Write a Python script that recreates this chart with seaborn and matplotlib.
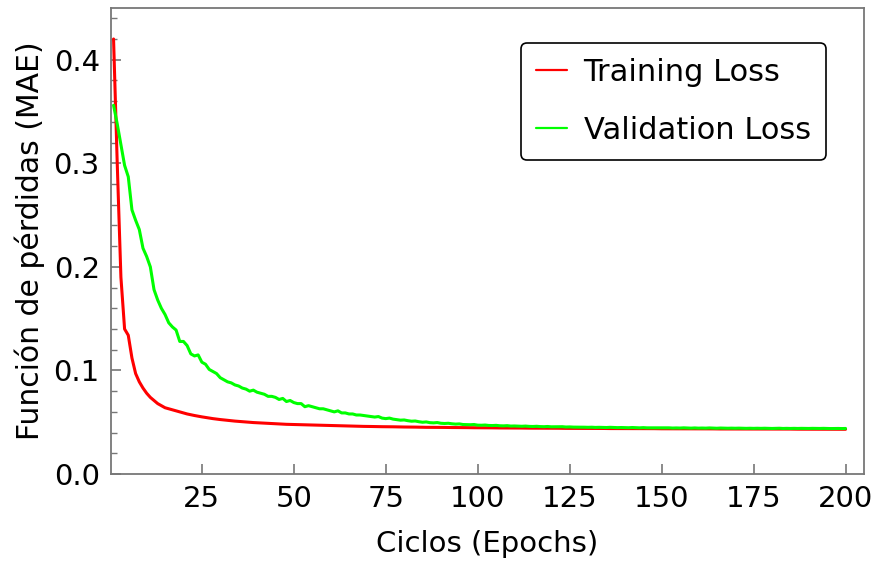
import matplotlib
matplotlib.use("Agg")
import matplotlib.pyplot as plt
from matplotlib.ticker import MultipleLocator
import numpy as np
import pandas as pd
import seaborn as sns

# Loss per epoch (MAE), epochs 1..200
training_loss = [
    0.420, 0.300, 0.190, 0.140, 0.134, 0.112, 0.097, 0.089, 0.083, 0.078,
    0.074, 0.071, 0.068, 0.066, 0.064, 0.063, 0.062, 0.061, 0.060, 0.059,
    0.0580, 0.0572, 0.0565, 0.0558, 0.0552, 0.0546, 0.0540, 0.0535, 0.0530, 0.0526,
    0.0522, 0.0518, 0.0514, 0.0511, 0.0508, 0.0505, 0.0502, 0.0499, 0.0497, 0.0495,
    0.0493, 0.0491, 0.0489, 0.0487, 0.0485, 0.0483, 0.0482, 0.0480, 0.0479, 0.0477,
    0.0476, 0.0475, 0.0474, 0.0473, 0.0472, 0.0471, 0.0470, 0.0469, 0.0468, 0.0467,
    0.0466, 0.0465, 0.0465, 0.0464, 0.0463, 0.0462, 0.0462, 0.0461, 0.0460, 0.0460,
    0.0459, 0.0458, 0.0458, 0.0457, 0.0457, 0.0456, 0.0456, 0.0455, 0.0455, 0.0454,
    0.0454, 0.0453, 0.0453, 0.0452, 0.0452, 0.0451, 0.0451, 0.0451, 0.0450, 0.0450,
    0.0450, 0.0449, 0.0449, 0.0449, 0.0448, 0.0448, 0.0448, 0.0447, 0.0447, 0.0447,
    0.0446, 0.0446, 0.0446, 0.0446, 0.0445, 0.0445, 0.0445, 0.0445, 0.0444, 0.0444,
    0.0444, 0.0444, 0.0443, 0.0443, 0.0443, 0.0443, 0.0443, 0.0442, 0.0442, 0.0442,
    0.0442, 0.0442, 0.0441, 0.0441, 0.0441, 0.0441, 0.0441, 0.0441, 0.0440, 0.0440,
    0.0440, 0.0440, 0.0440, 0.0440, 0.0439, 0.0439, 0.0439, 0.0439, 0.0439, 0.0439,
    0.0439, 0.0438, 0.0438, 0.0438, 0.0438, 0.0438, 0.0438, 0.0438, 0.0437, 0.0437,
    0.0437, 0.0437, 0.0437, 0.0437, 0.0437, 0.0436, 0.0436, 0.0436, 0.0436, 0.0436,
    0.0436, 0.0436, 0.0436, 0.0436, 0.0435, 0.0435, 0.0435, 0.0435, 0.0435, 0.0435,
    0.0435, 0.0435, 0.0435, 0.0435, 0.0434, 0.0434, 0.0434, 0.0434, 0.0434, 0.0434,
    0.0434, 0.0434, 0.0434, 0.0434, 0.0434, 0.0433, 0.0433, 0.0433, 0.0433, 0.0433,
    0.0433, 0.0433, 0.0433, 0.0433, 0.0433, 0.0433, 0.0432, 0.0432, 0.0432, 0.0432,
]

validation_loss = [
    0.356, 0.338, 0.318, 0.298, 0.287, 0.255, 0.245, 0.236, 0.218, 0.210,
    0.200, 0.178, 0.168, 0.160, 0.154, 0.146, 0.142, 0.139, 0.128, 0.128,
    0.124, 0.116, 0.114, 0.115, 0.108, 0.106, 0.101, 0.099, 0.097, 0.093,
    0.091, 0.089, 0.088, 0.086, 0.085, 0.083, 0.082, 0.080, 0.081, 0.079,
    0.078, 0.077, 0.075, 0.075, 0.074, 0.072, 0.073, 0.070, 0.071, 0.069,
    0.068, 0.068, 0.065, 0.066, 0.065, 0.064, 0.063, 0.063, 0.062, 0.061,
    0.060, 0.061, 0.059, 0.059, 0.058, 0.058, 0.057, 0.057, 0.0565, 0.056,
    0.0555, 0.055, 0.0555, 0.054, 0.0535, 0.054, 0.053, 0.0525, 0.052, 0.0522,
    0.0515, 0.051, 0.0512, 0.0505, 0.050, 0.0503, 0.0496, 0.0494, 0.0497, 0.049,
    0.0488, 0.049, 0.0485, 0.0482, 0.0484, 0.0478, 0.0477, 0.0476, 0.0478, 0.0472,
    0.0471, 0.0473, 0.0469, 0.0468, 0.0470, 0.0466, 0.0465, 0.0467, 0.0463, 0.0464,
    0.0462, 0.0461, 0.0463, 0.0460, 0.0459, 0.0461, 0.0458, 0.0457, 0.0459, 0.0456,
    0.0456, 0.0455, 0.0457, 0.0454, 0.0455, 0.0453, 0.0453, 0.0454, 0.0452, 0.0451,
    0.0452, 0.0450, 0.0451, 0.0450, 0.0449, 0.0451, 0.0449, 0.0448, 0.0449, 0.0448,
    0.0447, 0.0449, 0.0447, 0.0446, 0.0448, 0.0446, 0.0446, 0.0447, 0.0445, 0.0446,
    0.0445, 0.0446, 0.0444, 0.0445, 0.0444, 0.0446, 0.0444, 0.0443, 0.0445, 0.0443,
    0.0444, 0.0443, 0.0445, 0.0443, 0.0442, 0.0444, 0.0443, 0.0442, 0.0443, 0.0442,
    0.0443, 0.0442, 0.0441, 0.0442, 0.0441, 0.0442, 0.0441, 0.0442, 0.0441, 0.0440,
    0.0441, 0.0442, 0.0440, 0.0441, 0.0440, 0.0441, 0.0440, 0.0441, 0.0440, 0.0440,
    0.0441, 0.0440, 0.0440, 0.0441, 0.0440, 0.0439, 0.0440, 0.0440, 0.0439, 0.0440,
]

epochs = list(range(1, len(training_loss) + 1))
series_names = ["Training Loss", "Validation Loss"]
series_colors = ["#ff0000", "#00ff00"]
x_ticks = [25, 50, 75, 100, 125, 150, 175, 200]
y_ticks = [0.0, 0.1, 0.2, 0.3, 0.4]

df = pd.DataFrame({
    "epoch": epochs * 2,
    "loss": training_loss + validation_loss,
    "serie": [series_names[0]] * len(epochs) + [series_names[1]] * len(epochs),
})

sns.set_style("white")
plt.rcParams["font.family"] = ["DejaVu Sans"]
plt.rcParams["text.color"] = "black"
plt.rcParams["axes.labelcolor"] = "black"

fig = plt.figure(figsize=(8.78, 5.65), dpi=100)
ax = fig.add_axes([0.1264, 0.161, 0.8576, 0.825])

sns.lineplot(data=df, x="epoch", y="loss", hue="serie",
             palette=dict(zip(series_names, series_colors)),
             linewidth=2.2, ax=ax, legend=True)

ax.set_xlim(0.3, 205)
ax.set_ylim(0, 0.45)
ax.set_xticks(x_ticks)
ax.set_yticks(y_ticks)
ax.set_yticklabels([f"{v:.1f}" for v in y_ticks])
ax.yaxis.set_minor_locator(MultipleLocator(0.02))

spine_color = "#777777"
for sp in ax.spines.values():
    sp.set_color(spine_color)
    sp.set_linewidth(1.3)
ax.tick_params(axis="both", which="major", direction="in", length=7, width=1.2,
               color=spine_color, labelsize=21, labelcolor="black", pad=8,
               bottom=True, left=True)
ax.tick_params(axis="y", which="minor", direction="in", length=4, width=1.0,
               color=spine_color, left=True)
ax.tick_params(axis="x", which="minor", bottom=False)

ax.set_xlabel("Ciclos (Epochs)", fontsize=21, labelpad=12, color="black")
ax.set_ylabel("Función de pérdidas (MAE)", fontsize=21.5, labelpad=6, color="black")

leg = ax.legend(loc="upper right", bbox_to_anchor=(0.9495, 0.925), fontsize=22,
                frameon=True, fancybox=True, edgecolor="black", framealpha=1,
                handlelength=1.0, handletextpad=0.55, labelspacing=0.95,
                borderpad=0.5, borderaxespad=0.0)
leg.get_frame().set_linewidth(1.2)
for t in leg.get_texts():
    t.set_color("black")
for h in leg.get_lines():
    h.set_linewidth(1.6)

fig.savefig("out.png", dpi=100)
